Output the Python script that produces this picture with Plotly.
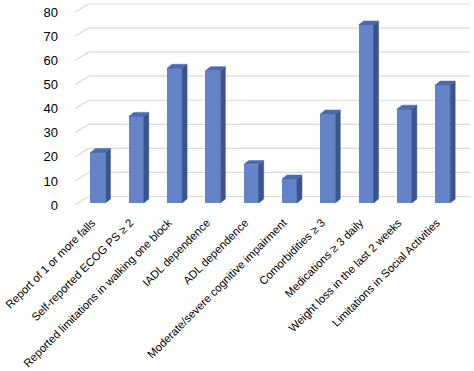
import plotly.graph_objects as go

categories = [
    "Report of 1 or more falls",
    "Self-reported ECOG PS \u2265 2",
    "Reported limitations in walking one block",
    "IADL dependence",
    "ADL dependence",
    "Moderate/severe cognitive impairment",
    "Comorbidities \u2265 3",
    "Medications \u2265 3 daily",
    "Weight loss in the last 2 weeks",
    "Limitations in Social Activities",
]
values = [21, 36, 56, 55, 16, 10, 37, 74, 39, 49]
y_ticks = [0, 10, 20, 30, 40, 50, 60, 70, 80]

# ---- geometry (pixel -> data unit conversions) ----
W, H = 474, 371
ml, mr, mt, mb = 75, 2, 2, 166
kx = 38.3                      # px per category
plot_w = W - ml - mr
plot_h = H - mt - mb
x0 = -0.6
x1 = x0 + plot_w / kx
ky = 192.5 / 80.0              # px per value unit
y1 = plot_h / ky

wall_dx = 13.5 / kx
wall_dy = 8.5 / ky
bar_base = 2.0 / ky
bar_w = 15.0 / kx
dep_dx = 5.0 / kx
dep_dy = 4.0 / ky
grid_end = x0 + (470 - ml) / kx
label_shift = -6.0 / kx

FRONT = "#6584C8"
SIDE = "#3A5490"
TOP = "#4D6AAE"
GRID = "#D9D9D9"

fig = go.Figure()

# gridlines: back wall + left side wall diagonal (below traces)
shapes = []
for t in y_ticks:
    shapes.append(dict(type="line", xref="x", yref="y", layer="below",
                       x0=x0, y0=t, x1=x0 + wall_dx, y1=t + wall_dy,
                       line=dict(color=GRID, width=1.2)))
    shapes.append(dict(type="line", xref="x", yref="y", layer="below",
                       x0=x0 + wall_dx, y0=t + wall_dy, x1=grid_end, y1=t + wall_dy,
                       line=dict(color=GRID, width=1.2)))

xs = list(range(len(categories)))

# front faces
fig.add_trace(go.Bar(x=xs, y=values, base=bar_base, width=bar_w,
                     marker=dict(color=FRONT, line=dict(width=0)),
                     showlegend=False))

# side faces and top faces
for i, v in zip(xs, values):
    r = i + bar_w / 2
    l = i - bar_w / 2
    top = bar_base + v
    fig.add_trace(go.Scatter(
        x=[r, r + dep_dx, r + dep_dx, r, r],
        y=[bar_base, bar_base + dep_dy, top + dep_dy, top, bar_base],
        fill="toself", fillcolor=SIDE, mode="lines",
        line=dict(color=SIDE, width=0.5),
        hoverinfo="skip", showlegend=False))
    fig.add_trace(go.Scatter(
        x=[l, r, r + dep_dx, l + dep_dx, l],
        y=[top, top, top + dep_dy, top + dep_dy, top],
        fill="toself", fillcolor=TOP, mode="lines",
        line=dict(color=TOP, width=0.5),
        hoverinfo="skip", showlegend=False))

fig.update_layout(
    width=W, height=H,
    margin=dict(l=ml, r=mr, t=mt, b=mb, autoexpand=False),
    paper_bgcolor="white", plot_bgcolor="white",
    font=dict(family="Arial, Liberation Sans, sans-serif", size=12, color="#000000"),
    bargap=0,
    shapes=shapes,
)
fig.update_xaxes(range=[x0, x1], tickmode="array",
                 tickvals=[i + label_shift for i in xs], ticktext=categories,
                 tickangle=-45, showgrid=False, zeroline=False, showline=False,
                 ticks="", ticklabelstandoff=8, tickfont=dict(size=11.3),
                 automargin=False, ticklabeloverflow="allow")
fig.update_yaxes(range=[0, y1], tickmode="array", tickvals=y_ticks,
                 showgrid=False, zeroline=False, showline=False,
                 ticks="", ticklabelstandoff=16, tickfont=dict(size=13),
                 automargin=False, ticklabeloverflow="allow")

fig.write_html("out.html", post_script="document.body.style.margin='0px';",
               config={"displayModeBar": False})
